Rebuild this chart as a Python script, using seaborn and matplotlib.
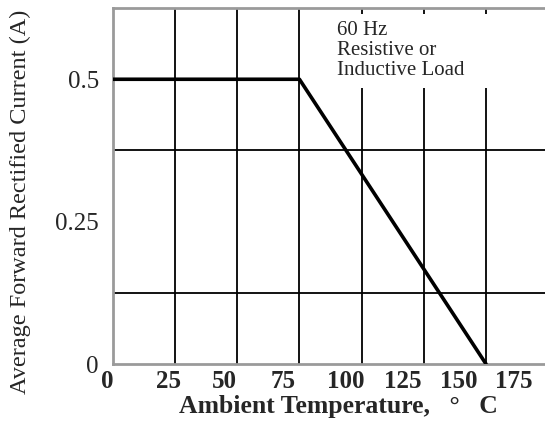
import matplotlib

matplotlib.use("Agg")

import matplotlib.pyplot as plt
import pandas as pd
import seaborn as sns
from matplotlib.patches import Rectangle

# derating curve
temperature = [0, 75, 150]
current = [0.5, 0.5, 0.0]

x_grid = [0, 25, 50, 75, 100, 125, 150, 175]
y_grid = [0, 0.125, 0.25, 0.375, 0.5, 0.625]
x_labels = ["0", "25", "50", "75", "100", "125", "150", "175"]
y_labels = ["0", "0.25", "0.5"]
y_label_vals = [0, 0.25, 0.5]
# the printed x labels drift left of the grid lines in the original
x_label_pos = [-2.4, 22.5, 45.0, 68.4, 93.8, 116.4, 139.0, 161.1]
note = "60 Hz\nResistive or\nInductive Load"

sns.set_style("white")
plt.rcParams["font.family"] = ["Liberation Serif", "DejaVu Serif"]

df = pd.DataFrame({"temp": temperature, "amps": current})

fig = plt.figure(figsize=(5.45, 4.25), dpi=100)
ax = fig.add_axes([0.207, 0.1435, 0.793, 0.8375])

ax.set_xticks(x_grid, minor=True)
ax.set_yticks(y_grid, minor=True)
ax.grid(which="minor", color="black", linewidth=1.3)
ax.grid(which="major", visible=False)
ax.set_axisbelow(True)

ax.add_patch(Rectangle((88, 0.484), 71.5, 0.13, facecolor="white", edgecolor="none", zorder=1))

sns.lineplot(data=df, x="temp", y="amps", color="black", linewidth=2.6, ax=ax, zorder=3)

ax.text(90, 0.603, note, fontsize=15, va="top", ha="left", linespacing=1.1, zorder=4)

# x labels sit off the grid, so they are placed as texts under the axis
ax.set_xticks([])
for pos, lab in zip(x_label_pos, x_labels):
    ax.text(pos, -0.017, lab, transform=ax.get_xaxis_transform(),
            ha="center", va="top", fontsize=18, fontweight="bold")

ax.set_yticks(y_label_vals, y_labels, fontsize=18)
ax.set_xlim(0, 173.7)
ax.set_ylim(0, 0.625)
ax.tick_params(which="both", length=0)
ax.tick_params(axis="y", pad=10)

ax.set_xlabel("Ambient Temperature,   °   C", fontsize=18.5, fontweight="bold")
ax.xaxis.set_label_coords(0.523, -0.087)
ax.set_ylabel("Average Forward Rectified Current (A)", fontsize=17.5)
ax.yaxis.set_label_coords(-0.19, 0.455)

for side in ["top", "left", "bottom"]:
    ax.spines[side].set_color("#9a9a9a")
    ax.spines[side].set_linewidth(2)
ax.spines["right"].set_visible(False)

fig.savefig("out.png", dpi=100)
